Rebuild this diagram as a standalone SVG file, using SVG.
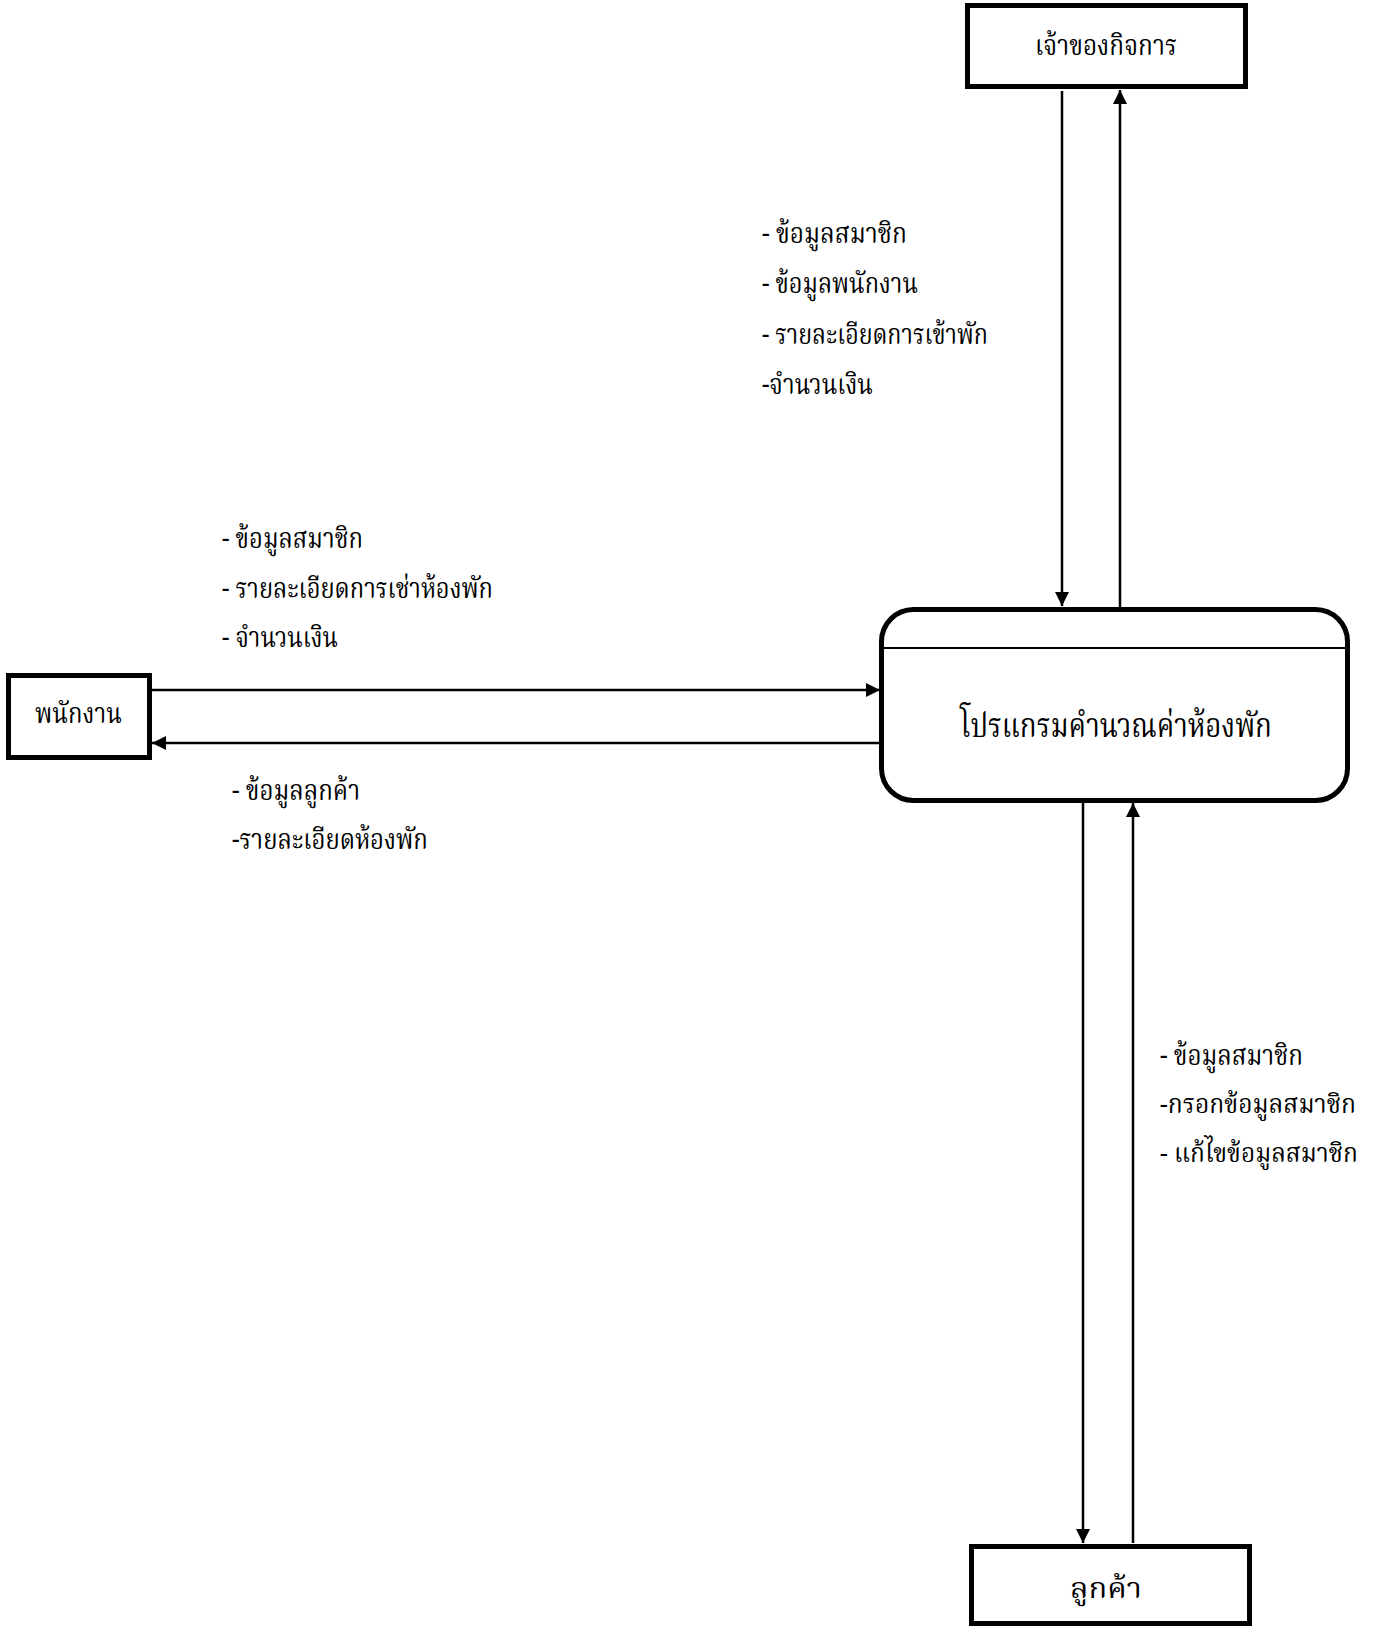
<svg xmlns="http://www.w3.org/2000/svg" width="1378" height="1629" viewBox="0 0 1378 1629">
<defs>
<style>
.ent{fill:#fff;stroke:#000;stroke-width:5}
.proc{fill:#fff;stroke:#000;stroke-width:5}
.t{font-family:"Norasi","Kinnari","Noto Serif Thai","Noto Sans Thai Looped","Noto Sans Thai","Noto Sans","DejaVu Sans",serif;fill:#000}
.nt{font-size:29px}
.lb{font-size:29px}
.lbs{font-size:27px}
.c{fill:none;stroke:#000;stroke-width:2.5}
</style>
<marker id="ah" viewBox="0 0 14 14" refX="14" refY="7" markerWidth="14" markerHeight="14" markerUnits="userSpaceOnUse" orient="auto">
<path d="M0,0 L14,7 L0,14 Z" fill="#000"/>
</marker>
</defs>
<rect width="1378" height="1629" fill="#fff"/>
<g id="connectors">
<line class="c" x1="1062" y1="91" x2="1062" y2="606" marker-end="url(#ah)"/>
<line class="c" x1="1120" y1="607" x2="1120" y2="90" marker-end="url(#ah)"/>
<line class="c" x1="152" y1="690" x2="880" y2="690" marker-end="url(#ah)"/>
<line class="c" x1="880" y1="743" x2="152" y2="743" marker-end="url(#ah)"/>
<line class="c" x1="1083" y1="803" x2="1083" y2="1543" marker-end="url(#ah)"/>
<line class="c" x1="1133" y1="1543" x2="1133" y2="803" marker-end="url(#ah)"/>
</g>
<g id="owner">
<rect class="ent" x="967.5" y="5.5" width="278" height="81"/>
<text class="t nt" x="1106" y="55" text-anchor="middle" textLength="142" lengthAdjust="spacingAndGlyphs">เจ้าของกิจการ</text>
</g>
<g id="process">
<rect class="proc" x="881.5" y="609.5" width="466" height="191" rx="32" ry="32"/>
<line x1="881.5" y1="648" x2="1347.5" y2="648" stroke="#000" stroke-width="2"/>
<text class="t" font-size="34" x="1116" y="737" text-anchor="middle" textLength="312" lengthAdjust="spacingAndGlyphs">โปรแกรมคำนวณค่าห้องพัก</text>
</g>
<g id="employee">
<rect class="ent" x="8.5" y="675.5" width="141" height="82"/>
<text class="t nt" x="78.5" y="723" text-anchor="middle" textLength="87" lengthAdjust="spacingAndGlyphs">พนักงาน</text>
</g>
<g id="customer">
<rect class="ent" x="971.5" y="1546.5" width="278" height="77"/>
<text class="t nt" x="1106" y="1598" text-anchor="middle" textLength="72" lengthAdjust="spacingAndGlyphs">ลูกค้า</text>
</g>
<g id="labels">
<text class="t lb" x="762" y="243" textLength="145" lengthAdjust="spacingAndGlyphs">- ข้อมูลสมาชิก</text>
<text class="t lb" x="762" y="293" textLength="156" lengthAdjust="spacingAndGlyphs">- ข้อมูลพนักงาน</text>
<text class="t lb" x="762" y="344" textLength="226" lengthAdjust="spacingAndGlyphs">- รายละเอียดการเข้าพัก</text>
<text class="t lb" x="762" y="394" textLength="111" lengthAdjust="spacingAndGlyphs">-จำนวนเงิน</text>
<text class="t lb" x="222" y="548" textLength="141" lengthAdjust="spacingAndGlyphs">- ข้อมูลสมาชิก</text>
<text class="t lb" x="222" y="598" textLength="271" lengthAdjust="spacingAndGlyphs">- รายละเอียดการเช่าห้องพัก</text>
<text class="t lb" x="222" y="647" textLength="116" lengthAdjust="spacingAndGlyphs">- จำนวนเงิน</text>
<text class="t lb" x="232" y="800" textLength="128" lengthAdjust="spacingAndGlyphs">- ข้อมูลลูกค้า</text>
<text class="t lb" x="232" y="849" textLength="196" lengthAdjust="spacingAndGlyphs">-รายละเอียดห้องพัก</text>
<text class="t lb" x="1160" y="1065" textLength="143" lengthAdjust="spacingAndGlyphs">- ข้อมูลสมาชิก</text>
<text class="t lbs" x="1160" y="1113" textLength="196" lengthAdjust="spacingAndGlyphs">-กรอกข้อมูลสมาชิก</text>
<text class="t lbs" x="1160" y="1162" textLength="198" lengthAdjust="spacingAndGlyphs">- แก้ไขข้อมูลสมาชิก</text>
</g>
</svg>
